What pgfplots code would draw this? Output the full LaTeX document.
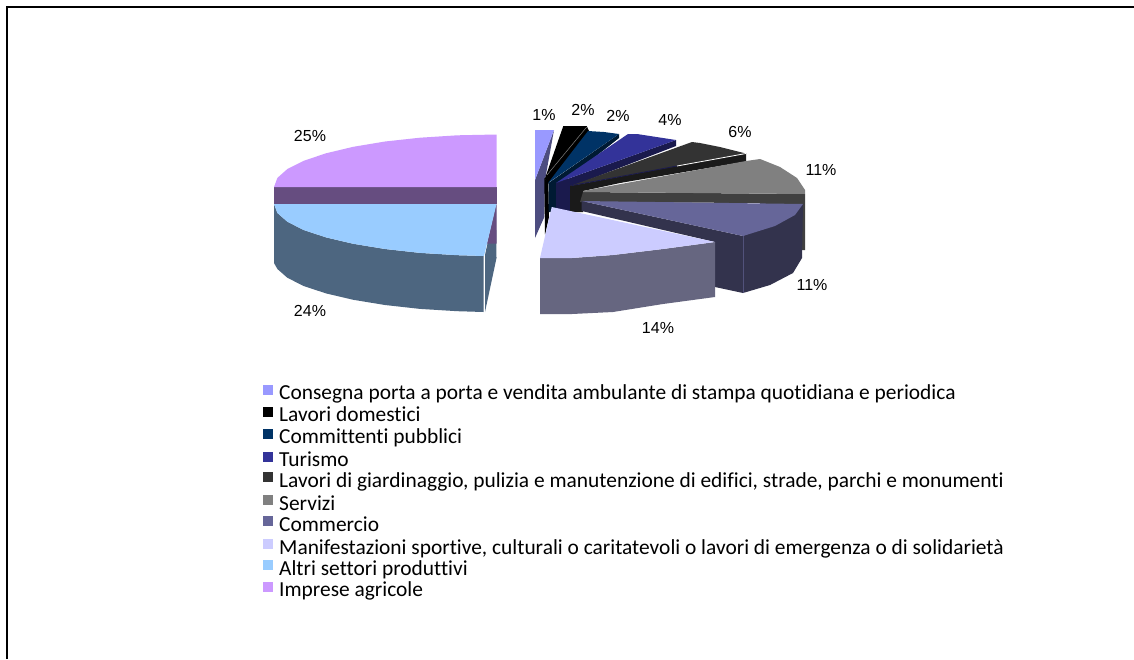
\documentclass[border=0pt]{standalone}
\usepackage{fontspec}
\setmainfont{Carlito}[Ligatures=NoCommon]
\newfontfamily\ar{Liberation Sans}
\usepackage{pgfplots}
\pgfplotsset{compat=1.18}
\definecolor{c1}{HTML}{9999FF}\definecolor{s1}{HTML}{4D4D80}
\definecolor{c3}{HTML}{003366}\definecolor{s3}{HTML}{001A33}
\definecolor{c4}{HTML}{333399}\definecolor{s4}{HTML}{1A1A4D}
\definecolor{c5}{HTML}{333333}\definecolor{s5}{HTML}{1A1A1A}
\definecolor{c6}{HTML}{808080}\definecolor{s6}{HTML}{404040}
\definecolor{c7}{HTML}{666699}\definecolor{s7}{HTML}{33334D}
\definecolor{c8}{HTML}{CCCCFF}\definecolor{s8}{HTML}{666680}
\definecolor{c9}{HTML}{99CCFF}\definecolor{s9}{HTML}{4D6680}
\definecolor{c10}{HTML}{CC99FF}\definecolor{s10}{HTML}{664D80}
\pgfplotsset{pg/.style={fill=#1,draw=none,no markers,forget plot},
 ln/.style={draw=#1,no markers,forget plot,line width=0.8pt}}
\newcommand{\lab}[3]{\node[font=\ar\fontsize{16}{19}\selectfont,inner sep=0pt,anchor=center] at (axis cs:#1,#2) {#3};}
\newcommand{\leg}[2]{\node[font=\fontsize{21.4}{24}\selectfont,inner sep=0pt,anchor=base west] at (axis cs:279,#1) {#2};}
\begin{document}
\begin{tikzpicture}
\begin{axis}[hide axis,scale only axis,width=1134pt,height=659pt,xmin=0,xmax=1134,ymin=0,ymax=659,y dir=reverse,clip=true]
% page background (keeps the full picture size)
\addplot[pg=white] coordinates {(0,0) (1134,0) (1134,659) (0,659)};
% frame
\addplot[draw=black,line width=1.6pt,no markers,forget plot] coordinates {(7,659) (7,6.9) (1134,6.9)};
% left group: 25%
\addplot[pg=s10] coordinates {(274,187) (497,187) (497,204) (274,204)};
\addplot[pg=c10] coordinates {(274,187) (277.4,177.9) (287.4,169) (303.7,160.8) (326,153.3) (353.3,146.8) (385,141.5) (420,137.7) (457.5,135.3) (496.5,134.5) (496.5,187)};
% left group: 24%
\addplot[pg=s9] coordinates {(496,204) (496.5,258) (485,312) (485,255)};
\addplot[pg=s10] coordinates {(496.5,204) (496.5,243.5) (487,243.5)};
\addplot[pg=s9] coordinates {(274,204) (277.4,213) (287.4,221.8) (303.7,230) (326,237.4) (353.3,243.8) (385,249) (420,252.9) (457.5,255.2) (483.5,256) (483.5,312) (457.5,311.2) (420,308.9) (385,305) (353.3,299.8) (326,293.4) (303.7,286) (287.4,277.8) (277.4,269) (274,263)};
\addplot[pg=c9] coordinates {(274,204) (496.5,204) (484,256) (457.5,255.2) (420,252.9) (385,249) (353.3,243.8) (326,237.4) (303.7,230) (287.4,221.8) (277.4,213)};
% 1%
\addplot[pg=s1] coordinates {(554,130) (545,180) (544.3,217) (535,238) (535,180)};
\addplot[pg=c1] coordinates {(535,130) (554,130) (535,180)};
% 2% black
\addplot[pg=black] coordinates {(544.3,178) (548.3,182) (549,217) (545,235)};
\addplot[pg=black] coordinates {(563.3,126) (586.7,126) (589,131) (548,184) (545,178.3)};
\addplot[ln=gray,line width=0.5pt] coordinates {(586.7,127) (547,175)};
% 2% navy
\addplot[pg=s3] coordinates {(619,134) (619,138) (556,188) (556,212) (548.5,212) (548.5,183)};
\addplot[pg=c3] coordinates {(548,183) (588,131) (604,132) (619,134)};
% 4%
\addplot[pg=s4] coordinates {(676,140) (676,146) (570,187) (570,212) (556,212) (556,183)};
\addplot[pg=c4] coordinates {(556,183) (628,134) (637,134) (676,140)};
% 6%
\addplot[pg=s5] coordinates {(746,153) (746,161.5) (620,183) (583,191) (583,212) (570,212) (570,186)};
\addplot[pg=c5] coordinates {(570,186) (692,142) (700,143) (720,147) (746,153.5)};
\addplot[ln=s4] coordinates {(572,185.5) (677,166)};
\addplot[ln=white] coordinates {(677,166) (746,153.5)};
% 11% grey
\addplot[pg=s6] coordinates {(583,192) (805,194) (805,250) (760,250) (760,203) (580,202)};
\addplot[pg=c6] coordinates {(583,191) (746,161) (760,159) (780,167) (797,178) (805,190) (805,194) (583,192)};
% 11% commercio
\addplot[pg=s7] coordinates {(581.7,201) (581.7,211) (715,242) (715,287) (743,293) (770,285) (793,273) (802,258) (803,204) (743,236)};
\addplot[pg=c7] coordinates {(581.7,201) (803,204) (795,215) (775,226) (743,236)};
\addplot[ln=c7!60!s7,line width=0.4pt] coordinates {(743,236) (743,293)};
% 14%
\addplot[pg=s8] coordinates {(540,258) (572,258) (613,255) (663,249) (715,242) (715,297) (663,304) (613,312) (572,314) (540,314)};
\addplot[pg=c8] coordinates {(551.7,207) (715,242) (663,249) (613,255) (572,258) (540,258)};
% data labels
\lab{310}{136}{25\%}
\lab{310}{311}{24\%}
\lab{544}{115}{1\%}
\lab{583}{110}{2\%}
\lab{618}{116}{2\%}
\lab{670}{120}{4\%}
\lab{740}{132}{6\%}
\lab{821}{170}{11\%}
\lab{812}{285}{11\%}
\lab{658}{328}{14\%}
% legend keys
\addplot[pg=c1] coordinates {(263,385) (273,385) (273,395) (263,395)};
\addplot[pg=black] coordinates {(263,407) (273,407) (273,417) (263,417)};
\addplot[pg=c3] coordinates {(263,429) (273,429) (273,439) (263,439)};
\addplot[pg=c4] coordinates {(263,451.5) (273,451.5) (273,462) (263,462)};
\addplot[pg=c5] coordinates {(263,472) (273,472) (273,482) (263,482)};
\addplot[pg=c6] coordinates {(263,495) (273,495) (273,505) (263,505)};
\addplot[pg=c7] coordinates {(263,516) (273,516) (273,526) (263,526)};
\addplot[pg=c8] coordinates {(263,539) (273,539) (273,549) (263,549)};
\addplot[pg=c9] coordinates {(263,560) (273,560) (273,570) (263,570)};
\addplot[pg=c10] coordinates {(263,582) (273,582) (273,592) (263,592)};
\leg{399}{Consegna porta a porta e vendita ambulante di stampa quotidiana e periodica}
\leg{421.7}{Lavori domestici}
\leg{443}{Committenti pubblici}
\leg{466}{Turismo}
\leg{487.7}{Lavori di giardinaggio, pulizia e manutenzione di edifici, strade, parchi e monumenti}
\leg{510}{Servizi}
\leg{531}{Commercio}
\leg{554}{Manifestazioni sportive, culturali o caritatevoli o lavori di emergenza o di solidarietà}
\leg{575}{Altri settori produttivi}
\leg{596.7}{Imprese agricole}
\end{axis}
\end{tikzpicture}
\end{document}
